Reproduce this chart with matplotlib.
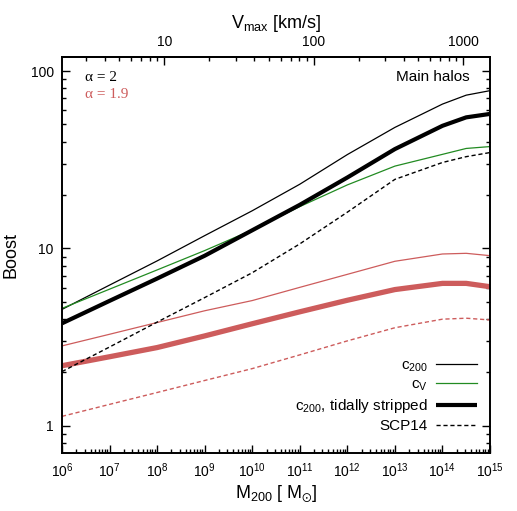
import numpy as np
import matplotlib
matplotlib.use("Agg")
import matplotlib.pyplot as plt
from matplotlib.ticker import FuncFormatter, LogLocator, NullFormatter

plt.rcParams["font.family"] = ["Liberation Sans", "DejaVu Sans"]
plt.rcParams["mathtext.default"] = "regular"

# --- valeurs ---
m200 = [1e6, 1e7, 1e8, 1e9, 1e10, 1e11, 1e12, 1e13, 1e14, 3.16e14, 1e15]

# alpha = 2
boost_c200 = [4.53, 6.21, 8.50, 11.8, 16.3, 23.0, 33.8, 48.1, 65.1, 73.1, 77.5]
boost_cv = [4.59, 5.89, 7.56, 9.72, 12.7, 17.2, 22.8, 29.1, 33.9, 36.6, 37.5]
boost_strip = [3.78, 5.06, 6.76, 9.09, 12.65, 17.6, 25.1, 36.3, 49.1, 54.8, 57.3]
boost_scp14 = [2.02, 2.78, 3.84, 5.28, 7.29, 10.6, 16.0, 24.5, 30.5, 32.9, 34.7]

# alpha = 1.9
boost_c200_19 = [2.82, 3.28, 3.82, 4.45, 5.08, 6.03, 7.14, 8.46, 9.30, 9.38, 9.10]
boost_strip_19 = [2.18, 2.45, 2.76, 3.21, 3.76, 4.39, 5.10, 5.86, 6.35, 6.35, 6.08]
boost_scp14_19 = [1.13, 1.32, 1.54, 1.80, 2.10, 2.51, 3.01, 3.57, 3.99, 4.04, 3.95]

# relation M200 -> Vmax (axe du haut)
logm_v10 = 8.151
dex_m_par_dex_v = 3.143

rouge = "#cd5c5c"
vert = "#228b22"


def m_vers_v(m):
    m = np.clip(np.asarray(m, dtype=float), 1e-30, None)
    return 10 ** ((np.log10(m) - logm_v10) / dex_m_par_dex_v + 1)


def v_vers_m(v):
    v = np.clip(np.asarray(v, dtype=float), 1e-30, None)
    return 10 ** ((np.log10(v) - 1) * dex_m_par_dex_v + logm_v10)


fig = plt.figure(figsize=(5.17, 5.11), dpi=100)
ax = fig.add_axes([0.1199, 0.1141, 0.8279, 0.7744])

# courbes alpha = 1.9
ax.plot(m200, boost_c200_19, color=rouge, lw=0.9)
ax.plot(m200, boost_strip_19, color=rouge, lw=3.8, solid_capstyle="butt")
ax.plot(m200, boost_scp14_19, color=rouge, lw=1.0, ls=(0, (3, 2)))

# courbes alpha = 2
ax.plot(m200, boost_c200, color="black", lw=0.9, label=r"c$_{200}$")
ax.plot(m200, boost_cv, color=vert, lw=0.9, label=r"c$_V$")
ax.plot(m200, boost_strip, color="black", lw=3.0, solid_capstyle="butt",
        label=r"c$_{200}$, tidally stripped")
ax.plot(m200, boost_scp14, color="black", lw=1.0, ls=(0, (3, 2)), label="SCP14")

ax.set_xscale("log")
ax.set_yscale("log")
ax.set_xlim(1e6, 1e15)
ax.set_ylim(0.705, 120)

ax.xaxis.set_major_locator(LogLocator(base=10, numticks=20))
ax.xaxis.set_minor_locator(LogLocator(base=10, subs=np.arange(2, 10), numticks=20))
ax.xaxis.set_minor_formatter(NullFormatter())
ax.yaxis.set_major_formatter(FuncFormatter(lambda v, p: f"{v:g}"))
ax.yaxis.set_minor_formatter(NullFormatter())

ax.tick_params(which="both", direction="in", top=False, right=True, labelsize=10)
ax.tick_params(which="major", length=6, width=1, pad=6)
ax.tick_params(which="minor", length=3, width=1)
for s in ax.spines.values():
    s.set_linewidth(1.4)

ax.set_xlabel(r"M$_{200}$ [ M$_{\odot}$]", fontsize=13, labelpad=3)
ax.set_ylabel("Boost", fontsize=13, labelpad=8)

sec = ax.secondary_xaxis("top", functions=(m_vers_v, v_vers_m))
sec.xaxis.set_major_formatter(FuncFormatter(lambda v, p: f"{v:g}"))
sec.xaxis.set_minor_formatter(NullFormatter())
sec.spines["top"].set_linewidth(1.4)
sec.tick_params(which="both", direction="in", labelsize=10)
sec.tick_params(which="major", length=6, width=1, pad=6)
sec.tick_params(which="minor", length=3, width=1)
sec.set_xlabel(r"V$_{max}$ [km/s]", fontsize=13, labelpad=5)

ax.text(0.054, 0.948, "α = 2", transform=ax.transAxes, ha="left", va="center",
        fontsize=11, family="Liberation Serif", color="black")
ax.text(0.054, 0.906, "α = 1.9", transform=ax.transAxes, ha="left", va="center",
        fontsize=11, family="Liberation Serif", color=rouge)
ax.text(0.953, 0.95, "Main halos", transform=ax.transAxes, ha="right", va="center",
        fontsize=11)

ax.legend(loc="lower right", bbox_to_anchor=(0.985, 0.034), frameon=False,
          markerfirst=False, fontsize=11, handlelength=2.7, handletextpad=0.55,
          labelspacing=0.26, borderaxespad=0)

fig.savefig("out.png", dpi=100)
